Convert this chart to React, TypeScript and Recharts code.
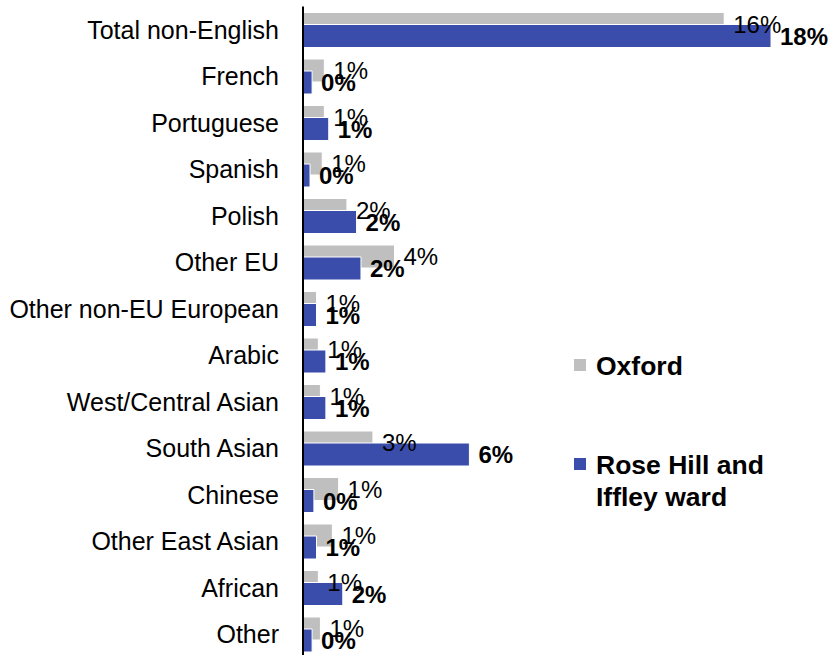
import { BarChart, Bar, XAxis, YAxis, LabelList, Legend } from 'recharts';

const categories = [
  'Total non-English',
  'French',
  'Portuguese',
  'Spanish',
  'Polish',
  'Other EU',
  'Other non-EU European',
  'Arabic',
  'West/Central Asian',
  'South Asian',
  'Chinese',
  'Other East Asian',
  'African',
  'Other',
];

// share of residents (%) by main language
const oxford = [16.2, 0.82, 0.82, 0.74, 1.69, 3.52, 0.52, 0.59, 0.67, 2.69, 1.37, 1.13, 0.59, 0.67];
const roseHill = [18.0, 0.35, 0.99, 0.27, 2.06, 2.23, 0.52, 0.88, 0.88, 6.4, 0.42, 0.52, 1.53, 0.35];

const seriesNames = ['Oxford', 'Rose Hill and Iffley ward'];
const GREY = '#bfbfbf';
const BLUE = '#3a4dab';
const FONT = '"Liberation Sans", Arial, sans-serif';

const data = categories.map((name, i) => ({ name, oxford: oxford[i], roseHill: roseHill[i] }));

const pct = (v: any) => `${Math.round(Number(v))}%`;

function LegendBox() {
  const items = [
    { label: seriesNames[0], color: GREY, gap: 67 },
    { label: seriesNames[1], color: BLUE, gap: 0 },
  ];
  return (
    <div style={{ fontFamily: FONT }}>
      {items.map((it) => (
        <div key={it.label} style={{ display: 'flex', alignItems: 'flex-start', marginBottom: it.gap }}>
          <div style={{ width: 12, height: 12, background: it.color, marginTop: 9, marginRight: 10, flexShrink: 0 }} />
          <div style={{ fontSize: 26.5, fontWeight: 'bold', lineHeight: '32px', width: 200, color: '#000' }}>{it.label}</div>
        </div>
      ))}
    </div>
  );
}

export default function App() {
  return (
    <div style={{ position: 'fixed', left: 0, top: 0, width: 834, height: 655, overflow: 'hidden', background: '#fff', fontFamily: FONT }}>
      <BarChart
        width={834}
        height={660}
        data={data}
        layout="vertical"
        margin={{ top: 6.5, right: 11, bottom: 2.5, left: 0 }}
        barGap={-11}
      >
        <XAxis type="number" domain={[0, 20]} hide />
        <YAxis
          type="category"
          dataKey="name"
          width={303}
          tickLine={false}
          tickSize={0}
          tickMargin={24}
          axisLine={{ stroke: '#000', strokeWidth: 2 }}
          tick={{ fontSize: 25, fill: '#000', fontFamily: FONT }}
          interval={0}
        />
        <Legend
          layout="vertical"
          align="center"
          verticalAlign="middle"
          content={() => <LegendBox />}
          wrapperStyle={{ left: 574, top: 350, width: 250 }}
        />
        <Bar dataKey="oxford" name={seriesNames[0]} fill={GREY} stroke="#fff" strokeWidth={1} barSize={23} isAnimationActive={false}>
          <LabelList dataKey="oxford" position="right" offset={9} formatter={pct} fill="#000" fontSize={24} fontFamily={FONT} />
        </Bar>
        <Bar dataKey="roseHill" name={seriesNames[1]} fill={BLUE} stroke="#fff" strokeWidth={1} barSize={23} isAnimationActive={false}>
          <LabelList dataKey="roseHill" position="right" offset={9} formatter={pct} fill="#000" fontSize={24} fontWeight="bold" fontFamily={FONT} />
        </Bar>
      </BarChart>
    </div>
  );
}
